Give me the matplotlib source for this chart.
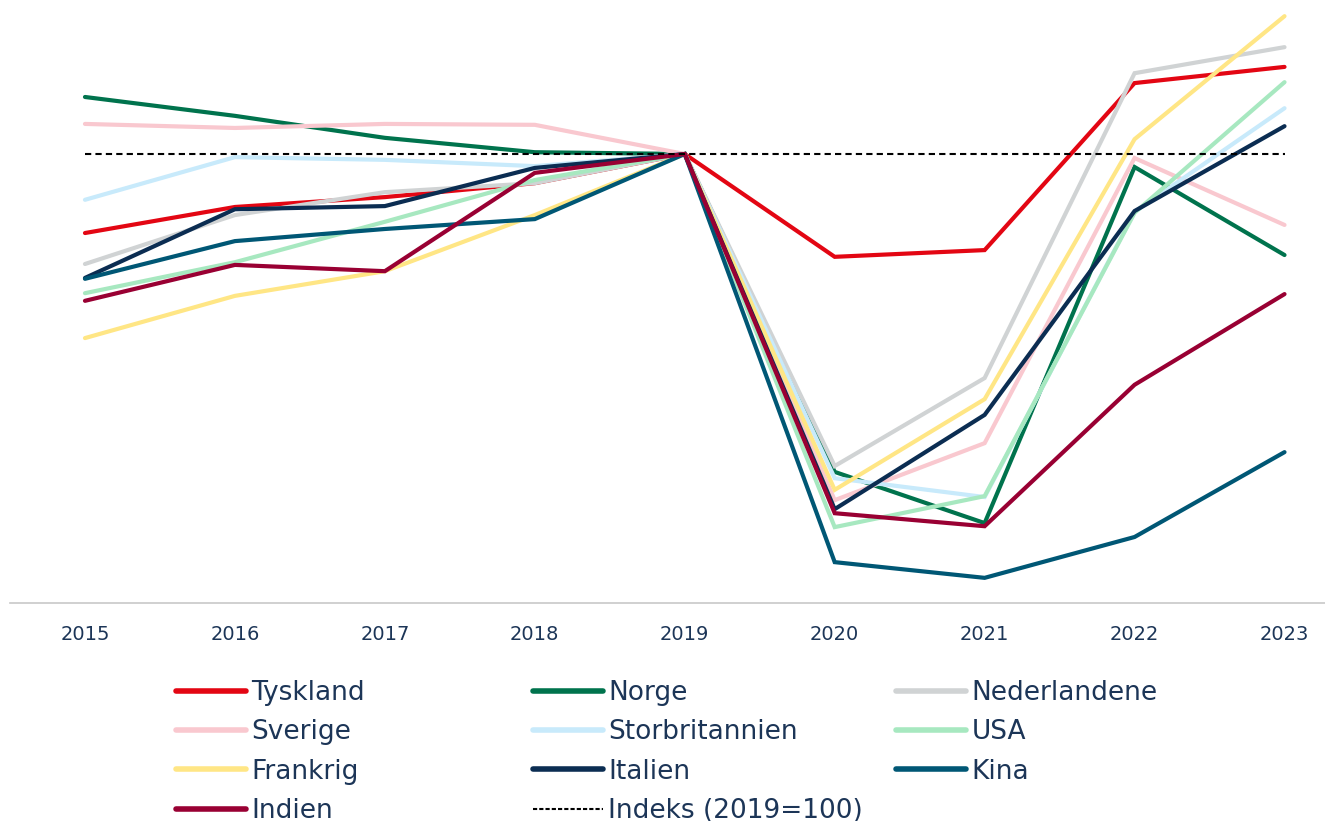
import matplotlib.pyplot as plt
from matplotlib.lines import Line2D

# index values, 2019 = 100
years = ["2015", "2016", "2017", "2018", "2019", "2020", "2021", "2022", "2023"]

tyskland = [82.4, 88.2, 90.4, 93.5, 100, 77.1, 78.6, 115.8, 119.4]
norge = [112.7, 108.5, 103.6, 100.4, 100, 29.2, 17.8, 97.1, 77.5]
nederlandene = [75.5, 86.4, 91.5, 93.5, 100, 30.5, 50.1, 118.0, 123.8]
sverige = [106.7, 105.8, 106.7, 106.5, 100, 22.9, 35.6, 99.1, 84.2]
storbritannien = [89.8, 99.3, 98.7, 97.3, 100, 27.8, 23.6, 87.1, 110.2]
usa = [69.0, 75.9, 84.9, 94.2, 100, 16.9, 23.8, 86.9, 116.0]
frankrig = [59.0, 68.4, 73.9, 86.4, 100, 25.2, 45.4, 103.3, 130.7]
italien = [72.4, 87.7, 88.4, 96.9, 100, 20.9, 41.9, 87.3, 106.2]
kina = [72.2, 80.6, 83.3, 85.5, 100, 9.1, 5.6, 14.7, 33.6]
indien = [67.3, 75.3, 73.9, 95.8, 100, 20.0, 17.1, 48.6, 68.8]
indeks = [100] * 9

names = ["Tyskland", "Norge", "Nederlandene", "Sverige", "Storbritannien",
         "USA", "Frankrig", "Italien", "Kina", "Indien"]
series = [tyskland, norge, nederlandene, sverige, storbritannien,
          usa, frankrig, italien, kina, indien]
colors = ["#E30613", "#00734D", "#D0D3D4", "#F9C8CF", "#C8EAFB",
          "#A7E8C0", "#FFE685", "#0B2D52", "#005775", "#990033"]

text_col = "#1C3557"
plt.rcParams["font.family"] = ["DejaVu Sans"]

fig = plt.figure(figsize=(13.25, 8.21), dpi=100)
ax = fig.add_axes([10 / 1325, 1 - 603 / 821, 1 - 10 / 1325, 603 / 821])

x = list(range(len(years)))
handles = {}
for name, vals, c in zip(names, series, colors):
    ln, = ax.plot(x, vals, color=c, lw=3.0, solid_capstyle="round",
                  solid_joinstyle="miter", label=name)
    handles[name] = ln
dash, = ax.plot(x, indeks, color="black", lw=1.5, ls=(0, (3, 2)), zorder=3,
                label="Indeks (2019=100)")
handles["Indeks (2019=100)"] = dash

ax.set_xlim(-0.5, 8.27)
ax.set_ylim(0, 134.3)
ax.set_xticks(x)
ax.set_xticklabels(years, color=text_col, fontsize=14)
ax.set_yticks([])
ax.tick_params(axis="x", length=0, pad=16)
for s in ["top", "left", "right"]:
    ax.spines[s].set_visible(False)
ax.spines["bottom"].set_color("#C8C8C8")
ax.spines["bottom"].set_linewidth(1.2)

# three separate legend columns, placed like the original
cols = [["Tyskland", "Sverige", "Frankrig", "Indien"],
        ["Norge", "Storbritannien", "Italien", "Indeks (2019=100)"],
        ["Nederlandene", "USA", "Kina"]]
xpos = [163, 520, 883]
for names_col, xp in zip(cols, xpos):
    hs = []
    for n in names_col:
        h = handles[n]
        if n.startswith("Indeks"):
            hs.append(Line2D([], [], color="black", lw=1.5, ls=(0, (2, 1))))
        else:
            hs.append(Line2D([], [], color=h.get_color(), lw=4,
                             solid_capstyle="round"))
    fig.legend(hs, names_col, loc="upper left",
               bbox_to_anchor=(xp / 1325, 1 - 667 / 821),
               frameon=False, fontsize=19, handlelength=2.65,
               handletextpad=0.2, labelspacing=0.5, borderpad=0,
               labelcolor=text_col)

fig.savefig("out.png", dpi=100)
